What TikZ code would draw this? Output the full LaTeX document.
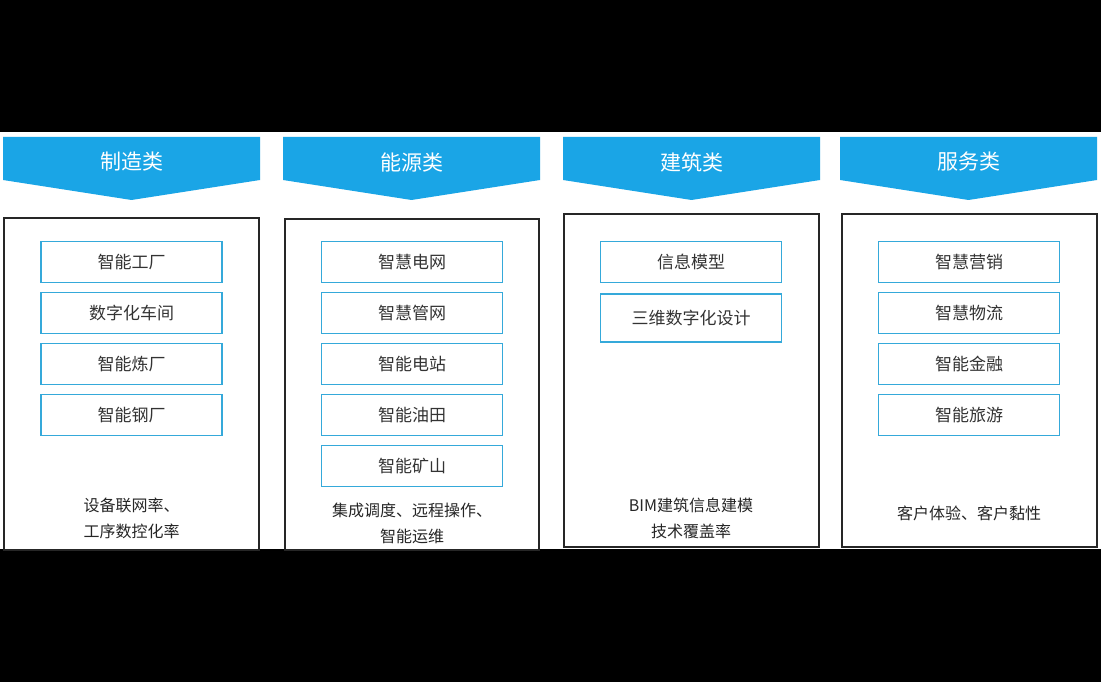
\documentclass[tikz,border=0pt]{standalone}
\usepackage{fontspec}
\newfontfamily\cjk{Noto Sans CJK SC}
\definecolor{hb}{HTML}{1AA5E6}
\definecolor{ib}{HTML}{35A9DA}
\begin{document}
\begin{tikzpicture}[x=1pt,y=-1pt,
  item/.style={draw=ib,line width=1.3pt,minimum width=181pt,minimum height=41pt,font=\cjk\fontsize{17}{20}\selectfont,text=black!80},
  outer/.style={draw=black!85,line width=1.2pt},
  head/.style={fill=hb},
  htext/.style={text=white,font=\cjk\fontsize{21}{24}\selectfont},
  btext/.style={font=\cjk\fontsize{16}{26}\selectfont,align=center,text=black!85}]
\fill[black] (0,0) rectangle (1101,682);
\fill[white] (0,132) rectangle (1101,549);
\foreach \x/\w/\t/\n in {3/257/制造类/h1,283/257/能源类/h2,563/257/建筑类/h3,840/257/服务类/h4}{
  \fill[head] (\x,137) -- (\x+\w,137) -- (\x+\w,180) -- (\x+\w/2,200) -- (\x,180) -- cycle;
  \node[htext] (\n) at (\x+\w/2,162) {\t};
}
\draw[outer] (4,218) rectangle (259,550);
\draw[outer] (285,219) rectangle (539,550);
\draw[outer] (564,214) rectangle (819,547);
\draw[outer] (842,214) rectangle (1097,547);
\node[item] (a1) at (131.5,262) {智能工厂};
\node[item] (a2) at (131.5,313) {数字化车间};
\node[item] (a3) at (131.5,364) {智能炼厂};
\node[item] (a4) at (131.5,415) {智能钢厂};
\node[item] (b1) at (412,262) {智慧电网};
\node[item] (b2) at (412,313) {智慧管网};
\node[item] (b3) at (412,364) {智能电站};
\node[item] (b4) at (412,415) {智能油田};
\node[item] (b5) at (412,466) {智能矿山};
\node[item] (c1) at (691,262) {信息模型};
\node[item,minimum height=48pt] (c2) at (691,318) {三维数字化设计};
\node[item] (d1) at (969,262) {智慧营销};
\node[item] (d2) at (969,313) {智慧物流};
\node[item] (d3) at (969,364) {智能金融};
\node[item] (d4) at (969,415) {智能旅游};
\node[btext] (ta) at (131.5,518) {设备联网率、\\工序数控化率};
\node[btext] (tb) at (412,523) {集成调度、远程操作、\\智能运维};
\node[btext] (tc) at (691,518) {BIM建筑信息建模\\技术覆盖率};
\node[btext] (td) at (969,513) {客户体验、客户黏性};
\end{tikzpicture}
\end{document}
